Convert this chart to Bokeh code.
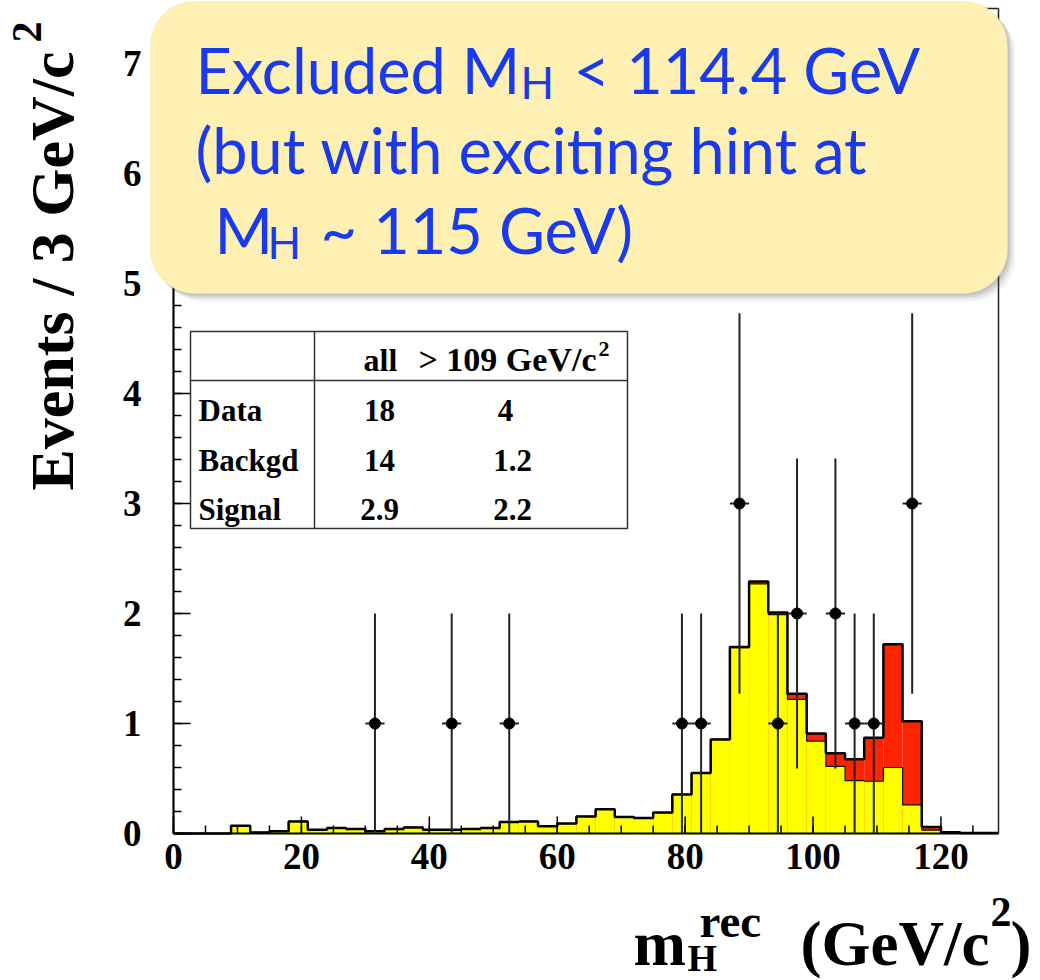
import math
from bokeh.plotting import figure
from bokeh.models import Label, BoxAnnotation, Range1d
from bokeh.core.properties import value
from bokeh.embed import file_html
from bokeh.resources import INLINE

# ---------------- data ----------------
bin_low = list(range(0, 129, 3))  # 3 GeV bins, 0..129
bkg = [0, 0, 0, 0.07, 0.01, 0.02, 0.11, 0.035, 0.05, 0.04,
       0.02, 0.04, 0.055, 0.035, 0.035, 0.04, 0.05, 0.105, 0.11, 0.066,
       0.09, 0.155, 0.22, 0.15, 0.14, 0.19, 0.355, 0.55, 0.855, 1.69,
       2.27, 1.99, 1.22, 0.84, 0.61, 0.48, 0.475, 0.60, 0.26, 0.03,
       0.012, 0.005, 0.005]
sig = [0, 0, 0, 0, 0, 0, 0, 0, 0, 0,
       0, 0, 0, 0, 0, 0, 0, 0, 0, 0,
       0, 0, 0, 0, 0, 0, 0, 0, 0, 0.005,
       0.02, 0.02, 0.05, 0.07, 0.12, 0.195, 0.395, 1.12, 0.76, 0.03,
       0, 0, 0]
data_x = [31.5, 43.5, 52.5, 79.5, 82.5, 88.5, 94.5, 97.5, 103.5, 106.5, 109.5, 115.5]
data_n = [1, 1, 1, 1, 1, 3, 1, 2, 2, 1, 1, 3]
data_err = [1, 1, 1, 1, 1, 1.73, 1, 1.41, 1.41, 1, 1, 1.73]
x_ticks = [0, 20, 40, 60, 80, 100, 120]
x_minor = list(range(0, 130, 5))
y_ticks = [0, 1, 2, 3, 4, 5, 6, 7]
y_minor = [round(i * 0.2, 1) for i in range(38)]
x_tick_labels = [str(t) for t in x_ticks]
y_tick_labels = [str(t) for t in y_ticks]
table_rows = ["Data", "Backgd", "Signal"]
table_all = ["18", "14", "2.9"]
table_hi = ["4", "1.2", "2.2"]
title_lines = ["Excluded M", "(but with exciting hint at", "M"]

X_MAX, Y_MAX = 129, 7.5
W, H = 1040, 980
L, R, T, B = 173, 998, 8, 833  # pixel edges of the histogram frame


def X(px):
    return (px - L) * X_MAX / (R - L)


def Y(py):
    return (B - py) * Y_MAX / (B - T)


def DX(dpx):
    return dpx * X_MAX / (R - L)


def DY(dpx):
    return dpx * Y_MAX / (B - T)


p = figure(width=W, height=H, x_range=Range1d(X(0), X(W)), y_range=Range1d(Y(H), Y(0)),
           output_backend="svg", toolbar_location=None,
           x_axis_location=None, y_axis_location=None,
           min_border=0)
p.grid.visible = False
p.outline_line_color = None
p.background_fill_color = "white"
p.border_fill_color = "white"

# ---------------- histograms ----------------
bin_high = [b + 3 for b in bin_low]
total = [b + s for b, s in zip(bkg, sig)]
p.quad(left=bin_low, right=bin_high, bottom=0, top=total,
       fill_color="#FF2400", line_color=None)
p.quad(left=bin_low, right=bin_high, bottom=0, top=bkg,
       fill_color="#FFFF00", line_color=None)
edges = bin_low + [bin_high[-1]]
p.step(x=edges, y=bkg + [bkg[-1]], mode="after", line_color="#111111", line_width=1.2)
p.step(x=edges, y=total + [total[-1]], mode="after", line_color="black", line_width=2.5)

# ---------------- axes (ticks inward, ROOT style) ----------------
p.segment(x0=x_minor, y0=0, x1=x_minor, y1=DY(8), line_color="black", line_width=1.5)
p.segment(x0=x_ticks, y0=0, x1=x_ticks, y1=DY(17), line_color="black", line_width=1.5)
p.segment(x0=0, y0=y_minor, x1=DX(8), y1=y_minor, line_color="black", line_width=1.5)
p.segment(x0=0, y0=y_ticks, x1=DX(17), y1=y_ticks, line_color="black", line_width=1.5)
# frame
p.segment(x0=[0, X_MAX], y0=[Y_MAX, 0], x1=[X_MAX, X_MAX], y1=[Y_MAX, Y_MAX],
          line_color="#222222", line_width=1.5)
p.segment(x0=[0, 0], y0=[0, 0], x1=[X_MAX, 0], y1=[0, Y_MAX],
          line_color="black", line_width=2.2)

p.text(x=x_ticks, y=Y(843), text=x_tick_labels, text_align="center", text_baseline="top",
       text_font=value("Liberation Serif"), text_font_style="bold",
       text_font_size="37px", text_color="black")
p.text(x=X(141), y=y_ticks, text=y_tick_labels, text_align="right", text_baseline="middle",
       text_font=value("Liberation Serif"), text_font_style="bold",
       text_font_size="37px", text_color="black")

# ---------------- data points ----------------
lo = [n - e for n, e in zip(data_n, data_err)]
hi = [n + e for n, e in zip(data_n, data_err)]
p.segment(x0=data_x, y0=lo, x1=data_x, y1=hi, line_color="#222222", line_width=2)
p.segment(x0=[x - 1.5 for x in data_x], y0=data_n, x1=[x + 1.5 for x in data_x], y1=data_n,
          line_color="#222222", line_width=2)
p.scatter(x=data_x, y=data_n, size=11, marker="circle", fill_color="black", line_color="black")

SHIFT = 0.38  # Label baseline correction, in em


def lab(px, py, text, size, font="Liberation Serif", style="bold", color="black",
        align="left", angle=0.0):
    if angle == 0.0:
        py = py - SHIFT * size
    else:
        px = px - SHIFT * size
    p.add_layout(Label(x=X(px), y=Y(py), text=text, text_font=font,
                       text_font_style=style, text_font_size=f"{size}px",
                       text_color=color, text_align=align, text_baseline="alphabetic",
                       angle=angle))


# ---------------- axis titles ----------------
lab(75, 490, "Events / 3 GeV/c", 62, angle=math.pi / 2)
lab(42, 42, "2", 42, angle=math.pi / 2)

lab(633, 967, "m", 63)
lab(687, 972, "H", 38)
lab(699, 938, "rec", 47)
lab(800, 967, "(GeV/c", 63)
lab(990, 927, "2", 42)
lab(1010, 967, ")", 63)

# ---------------- table ----------------
p.quad(left=X(190), right=X(627), bottom=Y(528), top=Y(331),
       fill_color="white", line_color="#333333", line_width=1.5)
p.segment(x0=[X(314), X(190)], y0=[Y(331), Y(380)], x1=[X(314), X(627)], y1=[Y(528), Y(380)],
          line_color="#333333", line_width=1.5)
lab(380, 372, "all", 32, align="center")
lab(418, 372, "> 109 GeV/c", 34)
lab(598, 357, "2", 22)
for i, (r, a, h) in enumerate(zip(table_rows, table_all, table_hi)):
    base = 422 + i * 49.5
    lab(198, base, r, 31)
    lab(379, base, a, 31, align="center")
    lab(505 if i == 0 else 512, base, h, 31, align="center")

# ---------------- highlight box ----------------
for off, alpha in ((8, 0.06), (6, 0.08), (4, 0.12), (2, 0.15)):
    p.add_layout(BoxAnnotation(left=X(150 + off), right=X(1007 + off),
                               top=Y(1 + off), bottom=Y(293 + off),
                               fill_color="#555555", fill_alpha=alpha,
                               line_color=None, border_radius=44))
p.add_layout(BoxAnnotation(left=X(150), right=X(1007), top=Y(1), bottom=Y(293),
                           fill_color="#FFF0B4", fill_alpha=1.0,
                           line_color="#E9DCA0", line_width=1, border_radius=44))

BLUE = "#1A3AF0"
lab(195, 93, title_lines[0], 63, font="Lato", style="normal", color=BLUE)
lab(520, 98, "H", 44, font="Lato", style="normal", color=BLUE)
lab(573, 93, "< 114.4 GeV", 63, font="Lato", style="normal", color=BLUE)
lab(195, 173, title_lines[1], 63, font="Lato", style="normal", color=BLUE)
lab(214, 253, title_lines[2], 63, font="Lato", style="normal", color=BLUE)
lab(267, 258, "H", 44, font="Lato", style="normal", color=BLUE)
lab(320, 253, "~ 115 GeV)", 63, font="Lato", style="normal", color=BLUE)

open("out.html", "w").write(file_html(p, INLINE))
